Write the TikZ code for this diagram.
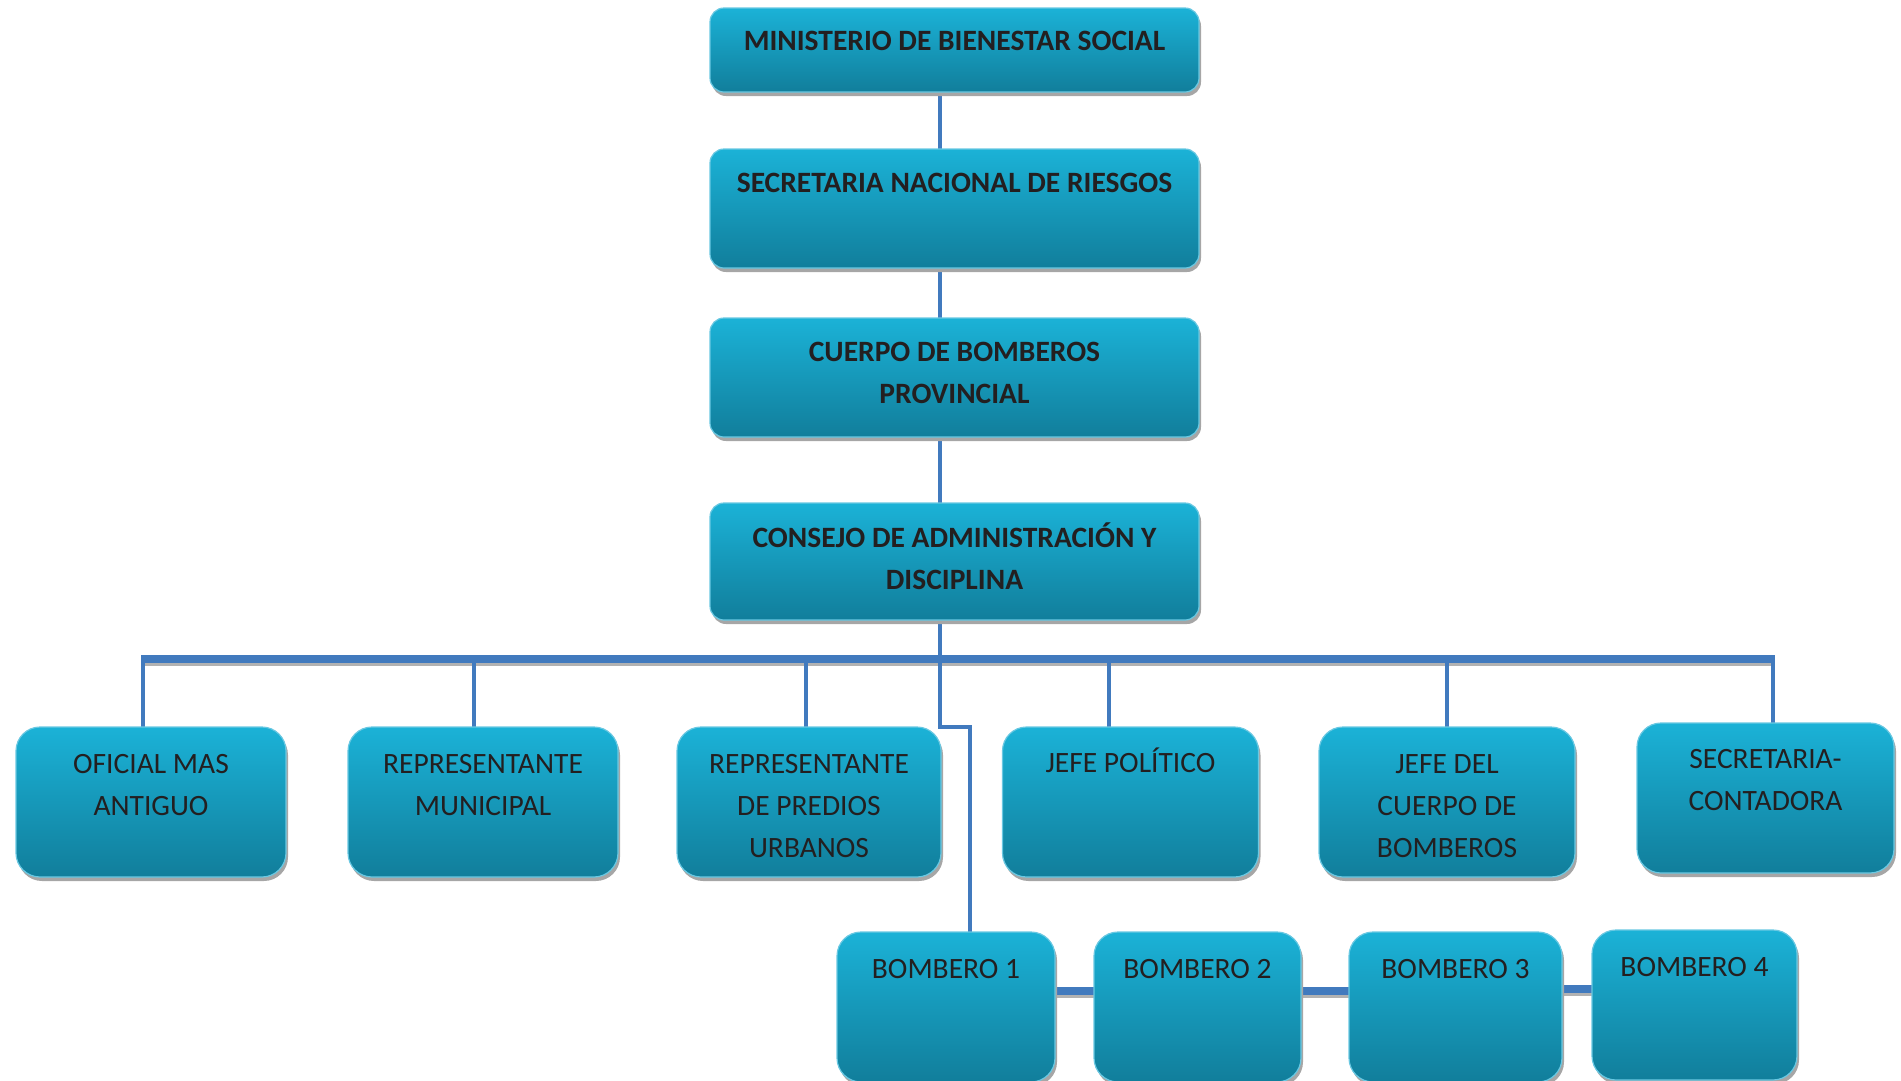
\documentclass[tikz,border=0pt]{standalone}
\usepackage{fontspec}
\setmainfont{Carlito}
\usetikzlibrary{shadows,calc,backgrounds}

\definecolor{boxtop}{RGB}{27,178,215}
\definecolor{boxbot}{RGB}{17,126,155}
\definecolor{boxrim}{RGB}{105,200,226}
\definecolor{linkblue}{RGB}{65,122,190}
\definecolor{txtdark}{RGB}{35,31,32}

\tikzset{
  orgbox/.style={rectangle, rounded corners=#1, draw=boxrim, line width=1.2pt,
    top color=boxtop, bottom color=boxbot, inner sep=0pt, outer sep=0pt,
    drop shadow={shadow xshift=2pt, shadow yshift=-4pt, fill=black!35, opacity=1}},
  orgbox/.default=24pt,
  lbl/.style={font=\fontsize{29.5}{42}\selectfont, text=txtdark, align=center, anchor=base, inner sep=0pt},
  lblb/.style={lbl, font=\fontsize{29.5}{42}\selectfont\bfseries},
  link/.style={draw=linkblue, line width=4.5pt},
  bar/.style={draw=linkblue, line width=8pt},
  barshadow/.style={draw=black!30, line width=8pt, transform canvas={yshift=-3pt}}
}

\begin{document}
\begin{tikzpicture}[x=1pt, y=-1pt]
\useasboundingbox (0,0) rectangle (1901,1080);

% upper chain
\node[orgbox=14pt, minimum width=489pt, minimum height=84pt] (min) at (954.5,50) {};
\node[orgbox=14pt, minimum width=489pt, minimum height=119pt] (snr) at (954.5,208.5) {};
\node[orgbox=14pt, minimum width=489pt, minimum height=119pt] (cbp) at (954.5,377.5) {};
\node[orgbox=14pt, minimum width=489pt, minimum height=117pt] (cad) at (954.5,561.5) {};

% (anchor base = last line, so offsets count the lines)
\node[lblb] at ($(min.north)+(0,42)$) {MINISTERIO DE BIENESTAR SOCIAL};
\node[lblb] at ($(snr.north)+(0,43)$) {SECRETARIA NACIONAL DE RIESGOS};
\node[lblb] at ($(cbp.north)+(0,85)$) {CUERPO DE BOMBEROS\\PROVINCIAL};
\node[lblb] at ($(cad.north)+(0,86)$) {CONSEJO DE ADMINISTRACIÓN Y\\DISCIPLINA};

% consejo members
\node[orgbox, minimum width=270pt, minimum height=150pt] (ofi) at (151,802) {};
\node[orgbox, minimum width=270pt, minimum height=150pt] (rmu) at (483,802) {};
\node[orgbox, minimum width=264pt, minimum height=150pt] (rpu) at (809,802) {};
\node[orgbox, minimum width=256pt, minimum height=150pt] (jpo) at (1130.5,802) {};
\node[orgbox, minimum width=256pt, minimum height=150pt] (jcb) at (1447,802) {};
\node[orgbox, minimum width=257pt, minimum height=150pt] (sec) at (1765.5,798) {};

\node[lbl] at ($(ofi.north)+(0,88)$) {OFICIAL MAS\\ANTIGUO};
\node[lbl] at ($(rmu.north)+(0,88)$) {REPRESENTANTE\\MUNICIPAL};
\node[lbl] at ($(rpu.north)+(0,130)$) {REPRESENTANTE\\DE PREDIOS\\URBANOS};
\node[lbl] at ($(jpo.north)+(0,45)$) {JEFE POLÍTICO};
\node[lbl] at ($(jcb.north)+(0,130)$) {JEFE DEL\\CUERPO DE\\BOMBEROS};
\node[lbl] at ($(sec.north)+(0,87)$) {SECRETARIA-\\CONTADORA};

% bomberos
\node[orgbox, minimum width=218pt, minimum height=150pt] (b1) at (946,1007) {};
\node[orgbox, minimum width=207pt, minimum height=150pt] (b2) at (1197.5,1007) {};
\node[orgbox, minimum width=213pt, minimum height=150pt] (b3) at (1455.5,1007) {};
\node[orgbox, minimum width=205pt, minimum height=150pt] (b4) at (1694.5,1005) {};

\foreach \n/\k in {b1/1, b2/2, b3/3, b4/4}
  \node[lbl] at ($(\n.north)+(0,46)$) {BOMBERO \k};

\begin{scope}[on background layer]
\coordinate (trunk) at (940,659);
\coordinate (barl) at (141,659);
\coordinate (barr) at (1775,659);
\draw[link] (min.south -| trunk) -- (snr.north -| trunk);
\draw[link] (snr.south -| trunk) -- (cbp.north -| trunk);
\draw[link] (cbp.south -| trunk) -- (cad.north -| trunk);
\draw[link] (cad.south -| trunk) -- (trunk);
\draw[barshadow] (barl) -- (barr);
\draw[bar] (barl) -- (barr);
\foreach \n/\dx in {ofi/-8, rmu/-9, rpu/-3, jpo/-21.5, jcb/0, sec/7.5}
  \draw[link] ([xshift=\dx pt]\n.north) -- ([xshift=\dx pt]\n.north |- trunk);
\draw[link] (trunk) -- ++(0,68) -| ([xshift=24pt]b1.north);
\foreach \a/\b/\dy in {b1/b2/16, b2/b3/16, b3/b4/18} {
  \draw[barshadow] ([yshift=\dy pt, xshift=-10pt]\a.east) -- ([yshift=\dy pt]\a.east -| \b.west);
  \draw[bar] ([yshift=\dy pt, xshift=-10pt]\a.east) -- ([yshift=\dy pt]\a.east -| \b.west);
}
\end{scope}
\end{tikzpicture}
\end{document}
